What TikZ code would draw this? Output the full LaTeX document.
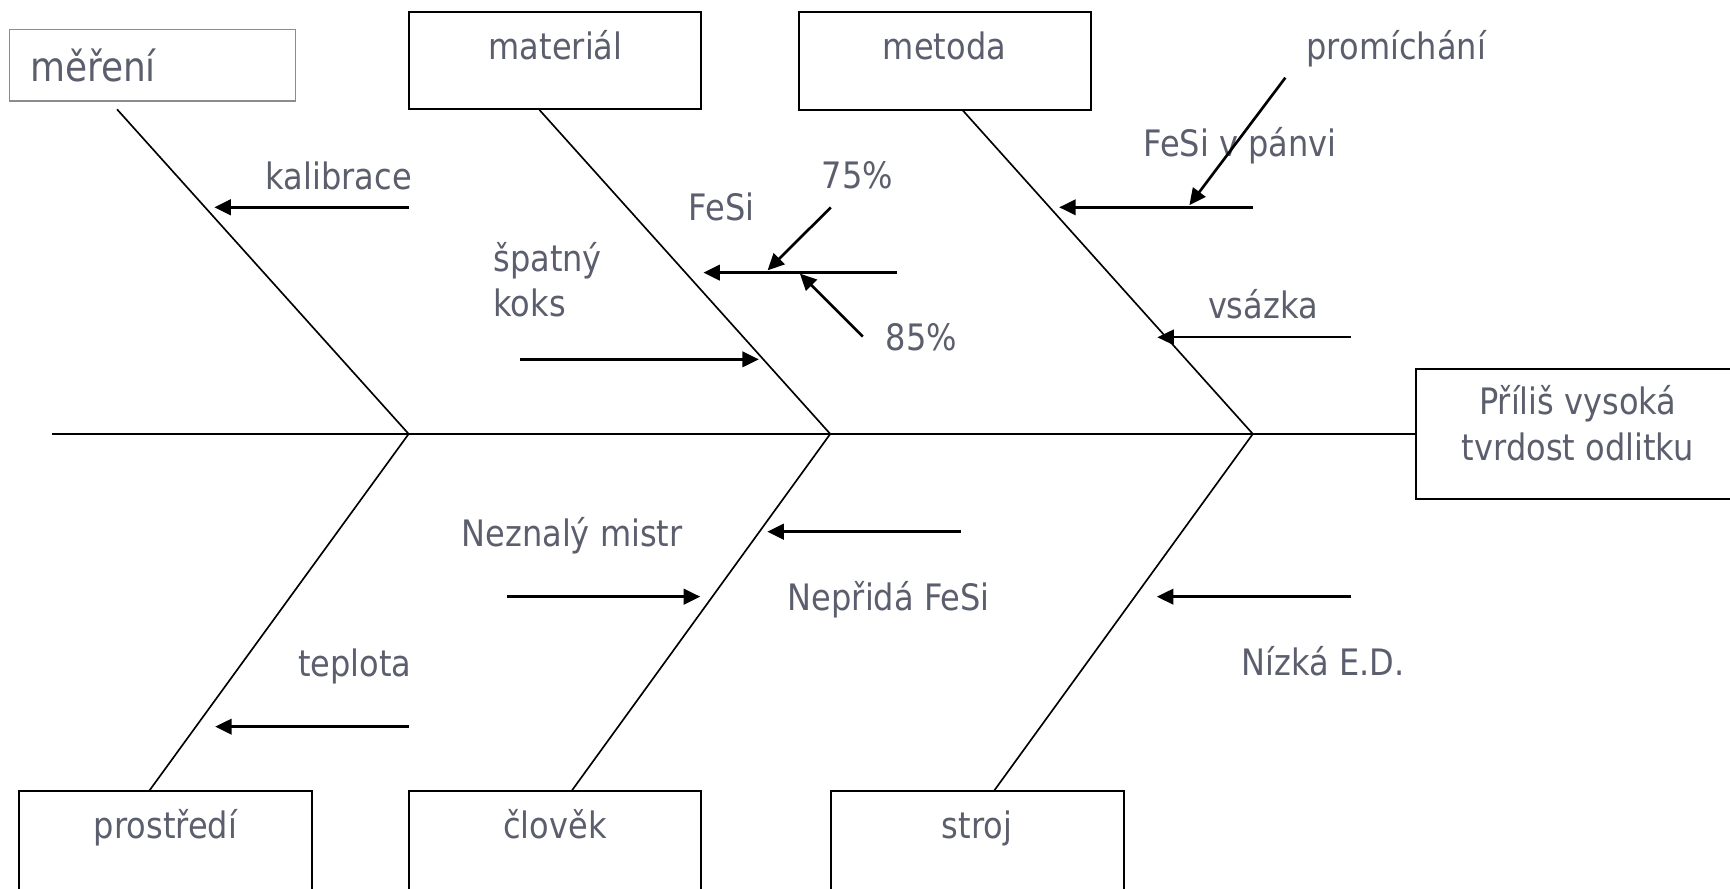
\documentclass[tikz,border=0pt]{standalone}
\usepackage{fontspec}
\setmainfont{DejaVu Sans}[FakeStretch=0.88]
\usetikzlibrary{arrows.meta}
\definecolor{labelgray}{HTML}{5B5E6D}
\definecolor{framegray}{HTML}{8C8C8C}

\begin{document}
\begin{tikzpicture}[
    x=1pt, y=-1pt,
    every node/.style={font=\fontsize{33}{41}\selectfont, text=labelgray, inner sep=0pt},
    catbox/.style={rectangle, draw=black, line width=1.8pt, minimum width=265pt, minimum height=88.5pt},
    cause/.style={anchor=base, align=center},
    bone/.style={line width=1.5pt, color=black},
    arrow/.style={line width=2.4pt, color=black, -{Triangle[length=15pt, width=14pt]}}
]
\useasboundingbox (0,0) rectangle (1568,805);

% Category boxes
\node[catbox, draw=framegray, line width=1.4pt, minimum width=259pt, minimum height=64.6pt] (merenibox) at (138.2,59.2) {};
\node[cause, anchor=base west, font=\fontsize{37}{44}\selectfont] (mereni) at (27,74) {měření};
\node[catbox] (materialbox) at (503,54.9) {};
\node[cause] (material) at (503.6,53.8) {materiál};
\node[catbox] (metodabox) at (856.5,55.4) {};
\node[cause] (metoda) at (856,53.8) {metoda};

\node[catbox, minimum height=104pt] (prostredibox) at (150,768.7) {};
\node[cause] (prostredi) at (150,759.8) {prostředí};
\node[catbox, minimum height=104pt] (clovekbox) at (503,768.7) {};
\node[cause] (clovek) at (503,759.8) {člověk};
\node[catbox, minimum height=104pt] (strojbox) at (886,768.7) {};
\node[cause] (stroj) at (885.5,759.8) {stroj};

% Effect
\node[catbox, minimum width=287pt, minimum height=117.5pt] (headbox) at (1426.6,393.3) {};
\node[cause] (head) at (1430,417) {Příliš vysoká\\tvrdost odlitku};

% Spine and bones
\coordinate (tail) at (47,393.3);
\coordinate (j1) at (370.4,393.3);
\coordinate (j2) at (752.5,393.3);
\coordinate (j3) at (1135.5,393.3);
\coordinate (u1) at (106.1,99.1);
\coordinate (u2) at (489,99.7);
\coordinate (u3) at (872.3,99.7);
\coordinate (d1) at (135.3,716.7);
\coordinate (d2) at (518.2,716.7);
\coordinate (d3) at (901,716.7);

\draw[bone] (tail) -- (headbox.west);
\draw[bone] (u1) -- (j1) -- (d1);
\draw[bone] (u2) -- (j2) -- (d2);
\draw[bone] (u3) -- (j3) -- (d3);

% Causes
\node[cause] (kalibrace) at (307,171.6) {kalibrace};
\node[cause] (fesi) at (654,199.4) {FeSi};
\node[cause] (p75) at (777,170.7) {75\%};
\node[cause] (p85) at (835,317.8) {85\%};
\node[cause, anchor=base west, align=left] (koks) at (447,287) {špatný\\koks};
\node[cause] (panev) at (1124,141.4) {FeSi v pánvi};
\node[cause] (mix) at (1265.5,53.8) {promíchání};
\node[cause] (vsazka) at (1144.6,288.6) {vsázka};
\node[cause] (mistr) at (518.5,494.9) {Neznalý mistr};
\node[cause] (nepridava) at (805.6,552.9) {Nepřidá FeSi};
\node[cause] (teplota) at (321.7,612.7) {teplota};
\node[cause] (ed) at (1199,611.8) {Nízká E.D.};

% Arrow ends
\coordinate (kalA) at (370.4,187.9);   \coordinate (kalB) at (194.2,187.9);
\coordinate (koksA) at (471.7,325.7);  \coordinate (koksB) at (687.8,325.7);
\coordinate (fesiA) at (812.7,247.1);  \coordinate (fesiB) at (637.5,247.1);
\coordinate (p75A) at (753,188);       \coordinate (p75B) at (695.7,245);
\coordinate (p85A) at (782,305);       \coordinate (p85B) at (725,248);
\coordinate (panevA) at (1135.6,187.9); \coordinate (panevB) at (960,187.9);
\coordinate (mixA) at (1165,70.4);     \coordinate (mixB) at (1078,186);
\coordinate (vsazkaA) at (1224.5,305.7); \coordinate (vsazkaB) at (1049,305.7);
\coordinate (nepA) at (871,481.9);     \coordinate (nepB) at (695.4,481.9);
\coordinate (mistrA) at (459.6,540.8); \coordinate (mistrB) at (634.7,540.8);
\coordinate (teplA) at (370.4,658.6);  \coordinate (teplB) at (195,658.6);
\coordinate (edA) at (1224.5,540.8);   \coordinate (edB) at (1048.5,540.8);

% Arrows
\draw[arrow] (kalA) -- (kalB);
\draw[arrow] (koksA) -- (koksB);
\draw[arrow] (fesiA) -- (fesiB);
\draw[arrow] (p75A) -- (p75B);
\draw[arrow] (p85A) -- (p85B);
\draw[arrow] (panevA) -- (panevB);
\draw[arrow] (mixA) -- (mixB);
\draw[arrow, line width=1.5pt] (vsazkaA) -- (vsazkaB);
\draw[arrow] (nepA) -- (nepB);
\draw[arrow] (mistrA) -- (mistrB);
\draw[arrow] (teplA) -- (teplB);
\draw[arrow] (edA) -- (edB);

\end{tikzpicture}
\end{document}
